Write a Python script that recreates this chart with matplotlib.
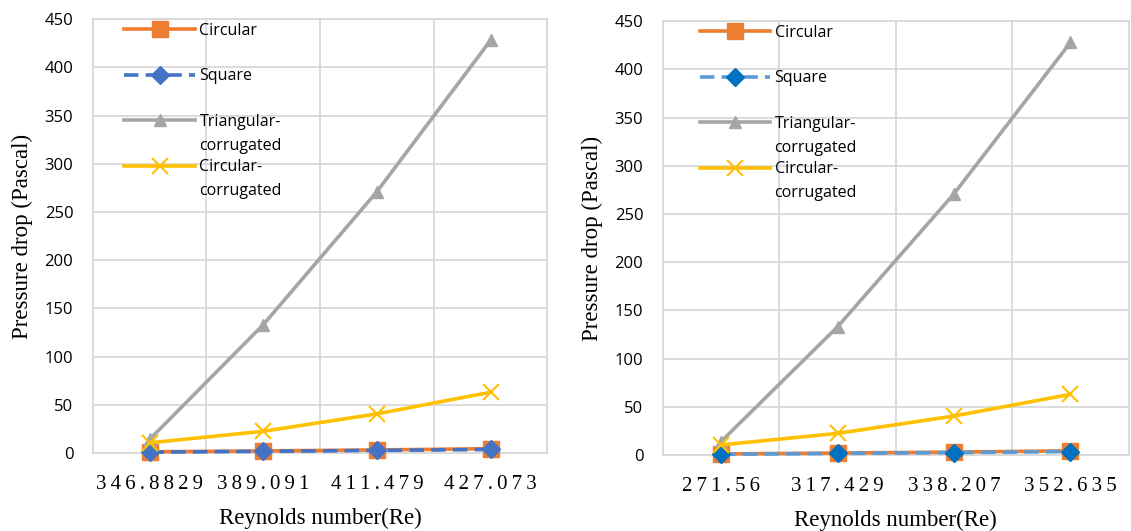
import numpy as np
import matplotlib.pyplot as plt
from matplotlib.ticker import MultipleLocator, FixedLocator

# data
re_left = ['346.8829', '389.091', '411.479', '427.073']
re_right = ['271.56', '317.429', '338.207', '352.635']
names = ['Circular', 'Square', 'Triangular-\ncorrugated', 'Circular-\ncorrugated']
circular = [1.2, 2.1, 3.1, 4.4]
square = [0.8, 1.7, 2.6, 3.6]
triangular = [14, 133, 271, 428]
circ_corr = [10.5, 22.5, 40.5, 63]

ORANGE = '#ED7D31'
GRAY = '#A5A5A5'
YELLOW = '#FFC000'
GRID = '#D9D9D9'
LEG_FONT = {'family': 'Open Sans', 'size': 11.5}


def spaced(s):
    # fake the letter spacing of the original tick labels
    return '\u2009'.join(s)


def draw(ax, cats, sq_line, sq_face, legend_x):
    x = np.arange(len(cats))
    first = [n.split('\n')[0] for n in names]
    ax.plot(x, circular, '-', color=ORANGE, lw=2.6, marker='s', ms=11.5,
            mfc=ORANGE, mec=ORANGE, label=first[0], zorder=3, clip_on=False)
    ax.plot(x, square, '--', color=sq_line, lw=2.6, marker='D', ms=9,
            mfc=sq_face, mec=sq_face, dashes=(4, 2), label=first[1], zorder=4,
            clip_on=False)
    ax.plot(x, triangular, '-', color=GRAY, lw=2.6, marker='^', ms=9,
            mfc=GRAY, mec=GRAY, label=first[2], zorder=3, clip_on=False)
    ax.plot(x, circ_corr, '-', color=YELLOW, lw=2.6, marker='x', ms=11,
            mew=1.5, label=first[3], zorder=5, clip_on=False)

    ax.set_xlim(-0.5, len(cats) - 0.5)
    ax.set_ylim(0, 450)
    ax.yaxis.set_major_locator(MultipleLocator(50))
    ax.set_xticks(x)
    ax.set_xticklabels([spaced(c) for c in cats],
                       family=['Liberation Serif', 'DejaVu Serif'], fontsize=15)
    ax.xaxis.set_minor_locator(FixedLocator(x[:-1] + 0.5))
    ax.grid(True, which='major', axis='y', color=GRID, lw=1.3)
    ax.grid(True, which='minor', axis='x', color=GRID, lw=1.3)
    ax.set_axisbelow(True)
    ax.tick_params(which='both', length=0)
    ax.tick_params(axis='y', labelsize=12, pad=14)
    ax.tick_params(axis='x', pad=16)
    for lab in ax.get_yticklabels():
        lab.set_family('Open Sans')
    for sp in ax.spines.values():
        sp.set_color(GRID)
        sp.set_linewidth(1.3)

    ax.set_xlabel('Reynolds number(Re)', family='Liberation Serif', fontsize=16.5, labelpad=10)
    ax.set_ylabel('Pressure drop (Pascal)', family='Liberation Serif', fontsize=16.5, labelpad=8)

    leg = ax.legend(loc='upper left', bbox_to_anchor=(legend_x, 1.025), frameon=False,
                    prop=LEG_FONT, handlelength=4.4, handletextpad=0.3, labelspacing=1.85)
    # Excel wraps long labels: second line hangs below the first, handle stays on line 1
    for t, n in zip(leg.get_texts(), names):
        rest = n.split('\n')[1:]
        for i, line in enumerate(rest):
            ax.annotate(line, xy=(0, 0), xycoords=t, xytext=(0, -24 * (i + 1)),
                        textcoords='offset pixels', ha='left', va='bottom',
                        fontfamily=LEG_FONT['family'], fontsize=LEG_FONT['size'],
                        annotation_clip=False, zorder=10)


fig = plt.figure(figsize=(11.31, 5.31), dpi=100)
ax1 = fig.add_axes([0.082, 0.147, 0.402, 0.817])
ax2 = fig.add_axes([0.586, 0.143, 0.412, 0.817])

draw(ax1, re_left, '#4472C4', '#4472C4', 0.038)
draw(ax2, re_right, '#5B9BD5', '#0070C0', 0.048)

fig.savefig('out.png', dpi=100)
